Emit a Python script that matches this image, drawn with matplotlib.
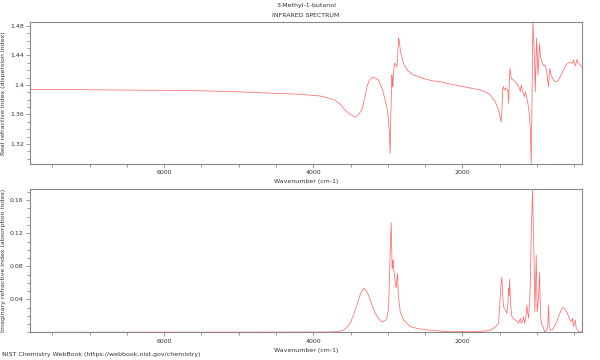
import matplotlib
matplotlib.use("Agg")
import matplotlib.pyplot as plt
from matplotlib.ticker import MultipleLocator

# ---- data ----
real_wn = [7800, 7000, 6500, 6000, 5500, 5100, 4800, 4500, 4177, 3908, 3730, 3650, 3595, 3520,
           3438, 3400, 3349, 3310, 3281, 3250, 3214, 3170, 3125, 3080, 3036, 3010, 2991, 2980,
           2969, 2960, 2946, 2938, 2933, 2925, 2911, 2895, 2879, 2868, 2857, 2850, 2830, 2790,
           2740, 2656, 2500, 2388, 2298, 2200, 2030, 1900, 1762, 1680, 1627, 1560, 1516, 1493,
           1479, 1470, 1458, 1450, 1440, 1430, 1425, 1410, 1400, 1389, 1381, 1372, 1362, 1345,
           1330, 1314, 1290, 1269, 1247, 1224, 1211, 1193, 1166, 1157, 1135, 1121, 1104, 1090,
           1077, 1054, 1040, 1032, 1023, 1005, 986, 978, 965, 955, 942, 925, 910, 898, 880, 866,
           855, 844, 835, 826, 815, 799, 775, 754, 730, 710, 680, 643, 610, 576, 545, 531, 520,
           509, 497, 486, 475, 464, 452, 442, 420, 400]
real_n = [1.3940, 1.3935, 1.3930, 1.3927, 1.3920, 1.3910, 1.3898, 1.3886, 1.3873, 1.3850, 1.3805,
          1.3750, 1.3684, 1.3610, 1.3562, 1.3590, 1.3661, 1.3820, 1.3976, 1.4060, 1.4102, 1.4095,
          1.4066, 1.3960, 1.3796, 1.3680, 1.3526, 1.3350, 1.3076, 1.3600, 1.4134, 1.4050, 1.3976,
          1.4150, 1.4292, 1.4280, 1.4246, 1.4400, 1.4630, 1.4616, 1.4450, 1.4290, 1.4200, 1.4134,
          1.4080, 1.4053, 1.4043, 1.4020, 1.3985, 1.3960, 1.3931, 1.3900, 1.3864, 1.3773, 1.3660,
          1.3549, 1.3503, 1.3680, 1.3950, 1.3976, 1.3940, 1.3930, 1.3954, 1.3960, 1.3930, 1.3930,
          1.3750, 1.4020, 1.4224, 1.4090, 1.4080, 1.4066, 1.4040, 1.4020, 1.3976, 1.3910, 1.4000,
          1.3910, 1.3840, 1.3910, 1.3818, 1.3750, 1.3616, 1.3435, 1.2940, 1.4854, 1.4500, 1.4337,
          1.3910, 1.4630, 1.4134, 1.4300, 1.4562, 1.4400, 1.4337, 1.4292, 1.4260, 1.4269, 1.4230,
          1.4157, 1.4050, 1.3976, 1.4150, 1.4224, 1.4150, 1.4111, 1.4060, 1.4043, 1.4050, 1.4066,
          1.4130, 1.4200, 1.4270, 1.4300, 1.4300, 1.4292, 1.4310, 1.4337, 1.4290, 1.4255, 1.4300,
          1.4346, 1.4310, 1.4292, 1.4270, 1.4246]

imag_wn = [7800, 3800, 3700, 3640, 3595, 3550, 3505, 3460, 3416, 3370, 3327, 3295, 3260, 3215,
           3170, 3120, 3080, 3040, 3013, 2991, 2980, 2969, 2955, 2948, 2942, 2935, 2928, 2920,
           2911, 2900, 2888, 2878, 2870, 2860, 2834, 2790, 2700, 2600, 2476, 2300, 2164, 1900,
           1700, 1620, 1582, 1540, 1515, 1500, 1485, 1471, 1460, 1448, 1435, 1425, 1403, 1390,
           1381, 1376, 1367, 1354, 1336, 1310, 1291, 1265, 1247, 1224, 1211, 1195, 1180, 1165,
           1150, 1135, 1125, 1112, 1100, 1090, 1077, 1059, 1050, 1041, 1028, 1010, 997, 980, 965,
           951, 935, 915, 898, 880, 866, 855, 844, 835, 820, 800, 775, 754, 730, 710, 680, 656,
           630, 600, 576, 555, 540, 530, 522, 512, 500, 486, 475, 460, 440, 420, 400]
imag_k = [0.0, 0.0003, 0.0008, 0.0015, 0.0027, 0.0060, 0.0110, 0.0210, 0.0331, 0.0460, 0.0533,
          0.0510, 0.0452, 0.0340, 0.0231, 0.0160, 0.0130, 0.0140, 0.0171, 0.0292, 0.0600, 0.0973,
          0.1328, 0.1000, 0.0773, 0.0850, 0.0873, 0.0750, 0.0693, 0.0600, 0.0533, 0.0650, 0.0713,
          0.0452, 0.0250, 0.0150, 0.0070, 0.0045, 0.0030, 0.0015, 0.0008, 0.0008, 0.0015, 0.0030,
          0.0050, 0.0080, 0.0110, 0.0310, 0.0550, 0.0672, 0.0450, 0.0310, 0.0290, 0.0271, 0.0231,
          0.0350, 0.0530, 0.0450, 0.0645, 0.0331, 0.0190, 0.0160, 0.0150, 0.0130, 0.0110, 0.0170,
          0.0110, 0.0130, 0.0190, 0.0110, 0.0170, 0.0331, 0.0240, 0.0170, 0.0350, 0.0570, 0.1170,
          0.1730, 0.1300, 0.0970, 0.0250, 0.0934, 0.0250, 0.0400, 0.0725, 0.0170, 0.0090, 0.0060,
          0.0005, 0.0020, 0.0040, 0.0100, 0.0330, 0.0070, 0.0030, 0.0025, 0.0060, 0.0090, 0.0140,
          0.0190, 0.0260, 0.0300, 0.0290, 0.0250, 0.0190, 0.0150, 0.0130, 0.0150, 0.0170, 0.0070,
          0.0110, 0.0150, 0.0060, 0.0030, 0.0010, 0.0005, 0.0003]

title_lines = ["3-Methyl-1-butanol", "INFRARED SPECTRUM"]
xlabel = "Wavenumber (cm-1)"
ylabel_top = "Real refractive index (dispersion index)"
ylabel_bot = "Imaginary refractive index (absorption index)"
footer = "NIST Chemistry WebBook (https://webbook.nist.gov/chemistry)"

FS = 4.5
LINE = "#ff6a6a"
SPINE = "#888888"
TXT = "#333333"

fig = plt.figure(figsize=(6, 3.6), dpi=100)
ax1 = fig.add_axes([0.05, 0.5444, 0.9195, 0.3953])
ax2 = fig.add_axes([0.05, 0.0769, 0.9195, 0.3972])

ax1.plot(real_wn, real_n, color=LINE, lw=0.55)
ax2.plot(imag_wn, imag_k, color=LINE, lw=0.55)

ax1.set_ylim(1.293, 1.4855)
ax2.set_ylim(0.0, 0.1732)
for ax in (ax1, ax2):
    ax.set_xlim(7800, 400)
    ax.xaxis.set_major_locator(MultipleLocator(2000))
    ax.xaxis.set_minor_locator(MultipleLocator(500))
    ax.yaxis.set_major_locator(MultipleLocator(0.04))
    ax.yaxis.set_minor_locator(MultipleLocator(0.01))
    for s in ax.spines.values():
        s.set_color(SPINE)
        s.set_linewidth(0.8)
    ax.tick_params(which='both', labelsize=FS, colors=SPINE, labelcolor=TXT, width=0.6, pad=1.5)
    ax.tick_params(which='major', length=3)
    ax.tick_params(which='minor', length=2)
    ax.set_xlabel(xlabel, fontsize=FS, color=TXT, labelpad=3)

ax1.set_yticks([1.32, 1.36, 1.40, 1.44, 1.48])
ax1.set_yticklabels(["1.32", "1.36", "1.4", "1.44", "1.48"])
ax2.set_yticks([0.04, 0.08, 0.12, 0.16])
ax2.set_yticklabels(["0.04", "0.08", "0.12", "0.16"])
ax1.set_ylabel(ylabel_top, fontsize=FS, color=TXT, labelpad=3)
ax2.set_ylabel(ylabel_bot, fontsize=FS, color=TXT, labelpad=3)

fig.text(0.51, 0.984, title_lines[0], ha='center', va='center', fontsize=FS, color=TXT)
fig.text(0.51, 0.957, title_lines[1], ha='center', va='center', fontsize=FS, color=TXT)
fig.text(0.004, 0.016, footer, ha='left', va='center', fontsize=FS, color=TXT)

fig.savefig("out.png", dpi=100)
